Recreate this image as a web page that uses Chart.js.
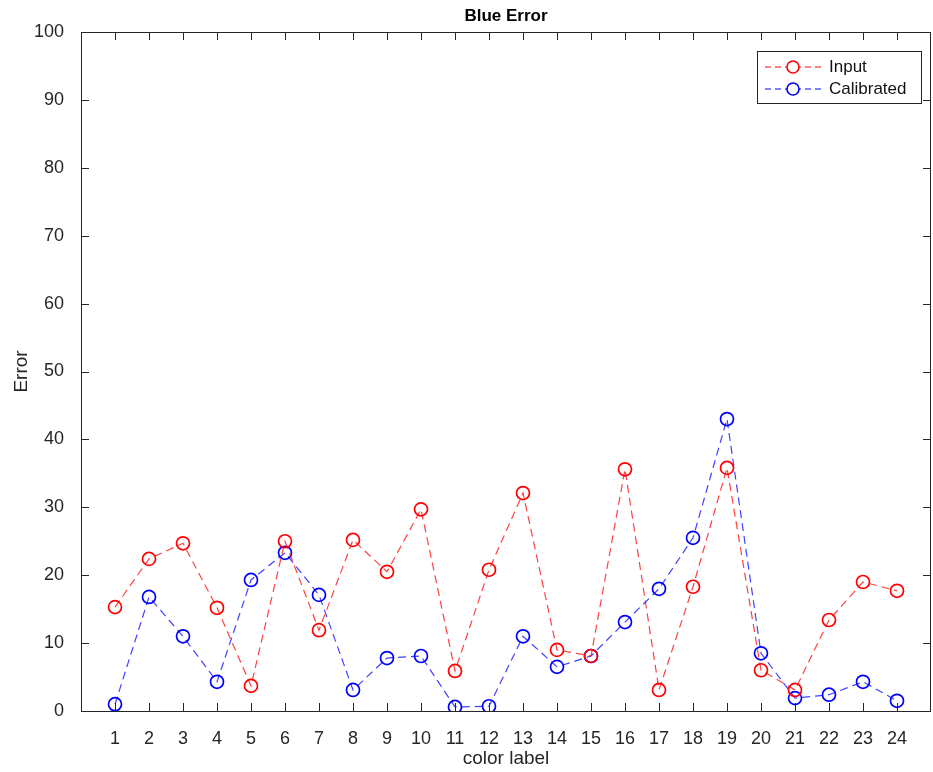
<!DOCTYPE html>
<html>
<head>
<meta charset="utf-8">
<script src="https://cdn.jsdelivr.net/npm/chart.js@4/dist/chart.umd.min.js"></script>
<style>
  html, body { margin: 0; padding: 0; background: #fff; }
  #wrap { width: 933px; height: 772px; }
</style>
</head>
<body>
<div id="wrap"><canvas id="c" width="933" height="772"></canvas></div>
<script>
// color labels on x, error values
const labels = [1, 2, 3, 4, 5, 6, 7, 8, 9, 10, 11, 12, 13, 14, 15, 16, 17, 18, 19, 20, 21, 22, 23, 24];
const inputErr = [15.3, 22.4, 24.7, 15.2, 3.7, 25.0, 11.9, 25.2, 20.5, 29.7, 5.9, 20.8, 32.1, 9.0, 8.1, 35.6, 3.1, 18.3, 35.8, 6.0, 3.1, 13.4, 19.0, 17.7];
const calibErr = [1.0, 16.8, 11.0, 4.3, 19.3, 23.3, 17.1, 3.1, 7.8, 8.1, 0.6, 0.7, 11.0, 6.5, 8.1, 13.1, 18.0, 25.5, 43.0, 8.5, 1.9, 2.4, 4.3, 1.5];
const yTicks = [0, 10, 20, 30, 40, 50, 60, 70, 80, 90, 100];
const TITLE = 'Blue Error';

const FONT = '"Liberation Sans", Arial, Helvetica, sans-serif';
const AXIS_COLOR = '#262626';

function toPoints(vals) {
  return labels.map((x, i) => ({ x: x, y: vals[i] }));
}

// box, inward ticks, title and legend like a matlab figure
const boxPlugin = {
  id: 'box',
  afterDraw(chart) {
    const ctx = chart.ctx;
    const a = chart.chartArea;
    const xs = chart.scales.x, ys = chart.scales.y;
    ctx.save();
    ctx.strokeStyle = AXIS_COLOR;
    ctx.lineWidth = 1;
    ctx.strokeRect(a.left + 0.5, a.top + 0.5, a.right - a.left - 1, a.bottom - a.top);
    ctx.beginPath();
    labels.forEach(v => {
      const px = Math.round(xs.getPixelForValue(v)) + 0.5;
      ctx.moveTo(px, a.bottom); ctx.lineTo(px, a.bottom - 8);
      ctx.moveTo(px, a.top); ctx.lineTo(px, a.top + 8);
    });
    yTicks.forEach(v => {
      const py = Math.round(ys.getPixelForValue(v)) + 0.5;
      ctx.moveTo(a.left, py); ctx.lineTo(a.left + 8, py);
      ctx.moveTo(a.right, py); ctx.lineTo(a.right - 8, py);
    });
    ctx.stroke();

    // title centred over the axes
    ctx.fillStyle = '#000';
    ctx.font = 'bold 17px ' + FONT;
    ctx.textAlign = 'center';
    ctx.textBaseline = 'middle';
    ctx.fillText(TITLE, (a.left + a.right) / 2, 16);

    // legend
    const lx = 757, ly = 51, lw = 164, lh = 52;
    ctx.fillStyle = '#fff';
    ctx.fillRect(lx, ly, lw, lh);
    ctx.strokeStyle = AXIS_COLOR;
    ctx.strokeRect(lx + 0.5, ly + 0.5, lw, lh);
    const items = [
      { text: 'Input', color: 'rgba(255,0,0,1)', y: ly + 16 },
      { text: 'Calibrated', color: 'rgba(0,0,255,1)', y: ly + 38 }
    ];
    items.forEach(it => {
      ctx.strokeStyle = it.color;
      ctx.lineWidth = 1;
      ctx.setLineDash([6, 4]);
      ctx.beginPath();
      ctx.moveTo(lx + 8, it.y); ctx.lineTo(lx + 64, it.y);
      ctx.stroke();
      ctx.setLineDash([]);
      ctx.lineWidth = 1.6;
      ctx.beginPath();
      ctx.arc(lx + 36, it.y, 6, 0, Math.PI * 2);
      ctx.fillStyle = '#fff';
      ctx.fill();
      ctx.stroke();
      ctx.fillStyle = '#111';
      ctx.font = '17px ' + FONT;
      ctx.textBaseline = 'middle';
      ctx.textAlign = 'left';
      ctx.fillText(it.text, lx + 72, it.y);
    });
    ctx.restore();
  }
};

function series(label, vals, color, lineColor) {
  return {
    label: label,
    data: toPoints(vals),
    borderColor: lineColor,
    borderWidth: 1.2,
    borderDash: [8, 5],
    pointStyle: 'circle',
    pointRadius: 6.5,
    pointBorderWidth: 1.7,
    pointBorderColor: color,
    pointBackgroundColor: 'rgba(0,0,0,0)',
    tension: 0,
    fill: false
  };
}

new Chart(document.getElementById('c'), {
  type: 'line',
  data: {
    datasets: [
      series('Input', inputErr, '#ff0000', 'rgba(255,0,0,0.75)'),
      series('Calibrated', calibErr, '#0000ff', 'rgba(0,0,255,0.75)')
    ]
  },
  options: {
    responsive: false,
    animation: false,
    layout: { autoPadding: false, padding: { top: 32, right: 2, left: 0, bottom: 0 } },
    plugins: {
      legend: { display: false },
      tooltip: { enabled: false },
      title: { display: false }
    },
    scales: {
      x: {
        type: 'linear',
        min: 0,
        max: 25,
        afterFit: s => { s.height = 61; s.paddingLeft = 0; s.paddingRight = 0; },
        afterBuildTicks: s => { s.ticks = labels.map(v => ({ value: v })); },
        grid: { display: false },
        border: { display: false },
        ticks: {
          color: AXIS_COLOR,
          font: { family: FONT, size: 18 },
          padding: 9,
          maxRotation: 0,
          autoSkip: false
        },
        title: {
          display: true,
          text: 'color label',
          color: AXIS_COLOR,
          font: { family: FONT, size: 19 },
          padding: { top: 0, bottom: 2 }
        }
      },
      y: {
        min: 0,
        max: 100,
        afterFit: s => { s.width = 81; s.paddingTop = 0; s.paddingBottom = 0; },
        afterBuildTicks: s => { s.ticks = yTicks.map(v => ({ value: v })); },
        grid: { display: false },
        border: { display: false },
        ticks: {
          color: AXIS_COLOR,
          font: { family: FONT, size: 18 },
          padding: 9
        },
        title: {
          display: true,
          text: 'Error',
          color: AXIS_COLOR,
          font: { family: FONT, size: 19 },
          padding: { top: 10, bottom: 4 }
        }
      }
    }
  },
  plugins: [boxPlugin]
});
</script>
</body>
</html>
